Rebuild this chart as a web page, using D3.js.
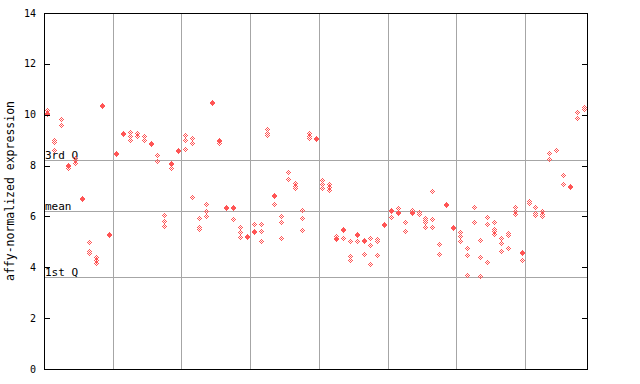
<!DOCTYPE html>
<html>
<head>
<meta charset="utf-8">
<script src="https://cdn.jsdelivr.net/npm/d3@7"></script>
<style>
  body { margin: 0; background: #fff; }
  text { font-family: "DejaVu Sans Mono", monospace; fill: #000; }
</style>
</head>
<body>
<div id="chart"></div>
<script>
// expression values per sample (replicates share one x slot)
const sample_values = [
  [10.2, 10.08, 10.04], [9.02, 8.94, 8.6], [9.83, 9.6], [8.02, 7.98, 7.9], [8.3, 8.2, 8.12],
  [6.72, 6.68], [5.0, 4.65, 4.57], [4.4, 4.3, 4.17], [10.4, 10.36], [5.3, 5.26],
  [8.5, 8.46], [9.3, 9.26], [9.33, 9.16, 9.0], [9.3, 9.17], [9.16, 8.99],
  [8.9, 8.86], [8.42, 8.18], [6.05, 5.83, 5.62], [8.1, 8.06, 7.9], [8.6, 8.56],
  [9.2, 9.0, 8.65], [9.08, 8.87, 6.76], [5.94, 5.57, 5.5], [6.49, 6.22, 6.02], [10.5, 10.46],
  [9.0, 8.96, 8.89], [6.36, 6.32], [6.36, 6.32, 5.9], [5.57, 5.39, 5.2], [5.25, 5.21],
  [5.69, 5.43, 5.38], [5.69, 5.43, 5.03], [9.44, 9.3, 9.21], [6.83, 6.79, 6.49], [6.02, 5.78, 5.15],
  [7.76, 7.47], [7.31, 7.21, 7.1], [6.26, 5.94, 5.48], [9.28, 9.17, 9.08], [9.08, 9.04],
  [7.44, 7.27, 7.1], [7.27, 7.16, 7.05], [5.25, 5.17, 5.13], [5.5, 5.46, 5.15], [5.04, 4.43, 4.3],
  [5.3, 5.26, 5.04], [5.08, 5.04, 4.52], [5.15, 4.89, 4.14], [5.11, 5.02, 4.49], [5.7, 5.66],
  [6.25, 6.21, 5.98], [6.32, 6.19, 6.15], [5.78, 5.43], [6.24, 6.16, 6.12], [6.19, 6.11],
  [5.95, 5.86, 5.8, 5.6], [7.01, 5.91, 5.6], [4.92, 4.52], [6.48, 6.44], [5.6, 5.56],
  [5.39, 5.22, 5.04], [4.76, 4.49, 3.71], [6.37, 5.78], [5.07, 4.4, 3.67], [5.98, 5.7, 4.21],
  [5.78, 5.5, 5.41, 5.32], [5.16, 4.95, 4.64], [5.35, 5.27, 4.77], [6.39, 6.2, 6.11], [4.6, 4.56, 4.3],
  [6.61, 6.51], [6.38, 6.13, 6.04], [6.21, 6.1, 6.0], [8.5, 8.26], [8.61],
  [7.63, 7.27], [7.2, 7.16], [10.11, 9.87], [10.3, 10.22]
];

const y_ticks = [0, 2, 4, 6, 8, 10, 12, 14];
const x_gridlines = [10, 20, 30, 40, 50, 60, 70];
const stat_names = ['3rd Q', 'mean', '1st Q'];
const stat_values = [8.22, 6.2, 3.6];

const fig_width = 640, fig_height = 384;
const plot = {left: 44, right: 587, top: 13, bottom: 369};
const point_color = '#ff5555';
const grid_color = '#a6a6a6';

const svg = d3.select('#chart')
  .append('svg')
    .attr('width', fig_width)
    .attr('height', fig_height)
    .attr('shape-rendering', 'crispEdges');

const x = d3.scaleLinear()
  .domain([0, sample_values.length])
  .range([plot.left, plot.right]);

const y = d3.scaleLinear()
  .domain([0, 14])
  .range([plot.bottom, plot.top]);

const px = v => Math.round(v) + 0.5;

// vertical group separators
svg.append('g')
  .selectAll('line')
  .data(x_gridlines)
  .join('line')
    .attr('x1', d => px(x(d)))
    .attr('x2', d => px(x(d)))
    .attr('y1', plot.top)
    .attr('y2', plot.bottom)
    .attr('stroke', grid_color);

// quartile / mean lines
const stats = svg.append('g');
stats.selectAll('line')
  .data(stat_values)
  .join('line')
    .attr('x1', plot.left)
    .attr('x2', plot.right)
    .attr('y1', d => px(y(d)))
    .attr('y2', d => px(y(d)))
    .attr('stroke', grid_color);

stats.selectAll('text')
  .data(stat_names)
  .join('text')
    .attr('x', plot.left + 1)
    .attr('y', (d, i) => Math.round(y(stat_values[i])) - 1)
    .style('font-size', '11px')
    .text(d => d);

// checkered diamond, 9 pixels each
const diamond_cells = [];
for (let dy = -2; dy <= 2; dy++)
  for (let dx = -2; dx <= 2; dx++)
    if (Math.abs(dx) + Math.abs(dy) <= 2 && (dx + dy) % 2 === 0)
      diamond_cells.push([dx, dy]);

const points = [];
sample_values.forEach((vals, i) => {
  vals.forEach(v => points.push({i: i, v: v}));
});

svg.append('g')
  .selectAll('g')
  .data(points)
  .join('g')
    .attr('transform', d => 'translate(' + Math.round(x(d.i + 0.5)) + ',' + Math.round(y(d.v)) + ')')
  .selectAll('rect')
  .data(diamond_cells)
  .join('rect')
    .attr('x', d => d[0])
    .attr('y', d => d[1])
    .attr('width', 1)
    .attr('height', 1)
    .attr('fill', point_color);

// frame
svg.append('rect')
  .attr('x', plot.left + 0.5)
  .attr('y', plot.top + 0.5)
  .attr('width', plot.right - plot.left)
  .attr('height', plot.bottom - plot.top)
  .attr('fill', 'none')
  .attr('stroke', '#000');

// ticks point inward on both sides
const ticks = svg.append('g');
ticks.selectAll('line.l')
  .data(y_ticks)
  .join('line')
    .attr('class', 'l')
    .attr('x1', plot.left)
    .attr('x2', plot.left + 6)
    .attr('y1', d => px(y(d)))
    .attr('y2', d => px(y(d)))
    .attr('stroke', '#000');

ticks.selectAll('line.r')
  .data(y_ticks)
  .join('line')
    .attr('class', 'r')
    .attr('x1', plot.right - 5)
    .attr('x2', plot.right + 1)
    .attr('y1', d => px(y(d)))
    .attr('y2', d => px(y(d)))
    .attr('stroke', '#000');

ticks.selectAll('text')
  .data(y_ticks)
  .join('text')
    .attr('x', 36)
    .attr('y', d => y(d))
    .attr('dy', '0.35em')
    .style('font-size', '10px')
    .style('text-anchor', 'end')
    .text(d => d);

svg.append('text')
  .attr('transform', 'translate(14,' + (plot.top + plot.bottom) / 2 + ') rotate(-90)')
  .style('font-size', '11.5px')
  .style('text-anchor', 'middle')
  .text('affy-normalized expression');
</script>
</body>
</html>
